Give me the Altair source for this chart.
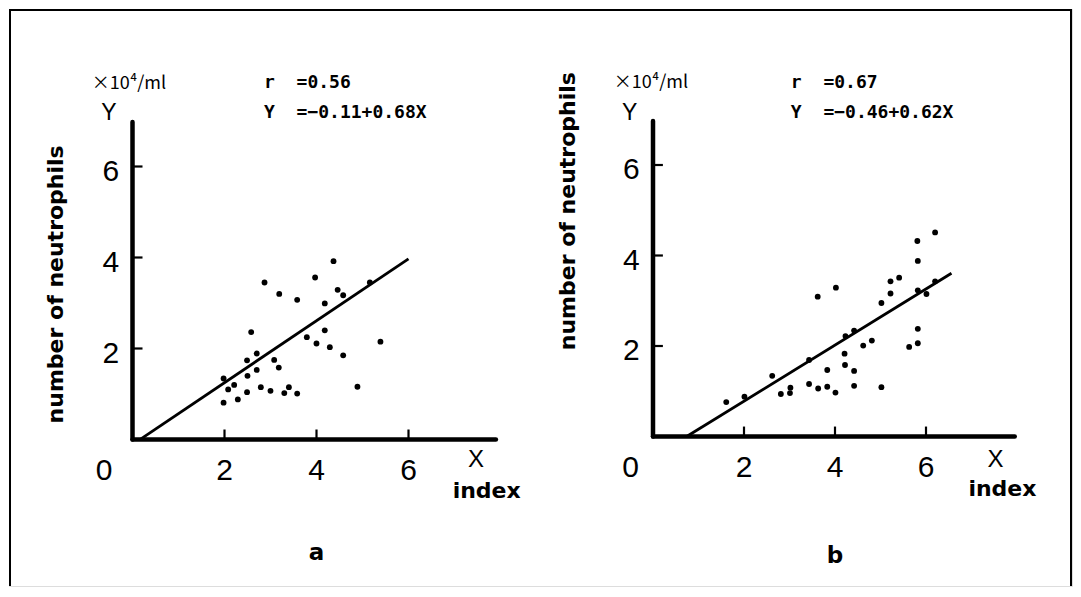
import altair as alt
import pandas as pd

# ---------------- data ----------------
a_x = [4.37, 3.97, 2.87, 5.16, 4.46, 4.58, 3.19, 3.58, 4.18, 2.58, 4.18, 3.79,
       4.00, 4.29, 5.39, 4.58, 2.70, 2.49, 3.08, 3.18, 2.70, 2.50, 1.98, 2.21,
       2.08, 2.79, 2.49, 3.00, 3.40, 3.30, 3.58, 1.98, 2.29, 4.89]
a_y = [3.92, 3.56, 3.45, 3.45, 3.29, 3.17, 3.20, 3.07, 2.99, 2.36, 2.40, 2.25,
       2.11, 2.03, 2.15, 1.85, 1.89, 1.74, 1.75, 1.58, 1.53, 1.40, 1.34, 1.20,
       1.10, 1.15, 1.04, 1.07, 1.15, 1.02, 1.01, 0.81, 0.88, 1.16]
b_x = [1.61, 2.01, 2.62, 2.81, 3.01, 3.02, 3.43, 3.43, 3.63, 3.83, 4.01, 3.83,
       4.22, 4.42, 4.42, 4.21, 4.23, 4.42, 4.62, 4.81, 5.02, 3.62, 4.02, 5.02,
       5.22, 5.22, 5.41, 5.63, 5.82, 5.82, 5.82, 5.82, 6.20, 5.81, 6.01, 6.20]
b_y = [0.76, 0.88, 1.34, 0.94, 0.96, 1.08, 1.16, 1.69, 1.06, 1.10, 0.97, 1.47,
       1.58, 1.45, 1.12, 1.83, 2.22, 2.34, 2.01, 2.12, 1.09, 3.09, 3.29, 2.95,
       3.16, 3.43, 3.51, 1.98, 2.06, 2.38, 3.23, 3.88, 4.51, 4.32, 3.15, 3.43]

a_fit = {"intercept": -0.11, "slope": 0.68, "x_from": 0.16, "x_to": 6.0}
b_fit = {"intercept": -0.46, "slope": 0.62, "x_from": 0.74, "x_to": 6.56}

NB = "\u00a0"
a_r_text = "r" + NB + NB + "=0.56"
a_eq_text = "Y" + NB + NB + "=\u22120.11+0.68X"
b_r_text = "r" + NB + NB + "=0.67"
b_eq_text = "Y" + NB + NB + "=\u22120.46+0.62X"

tick_values = [2, 4, 6]
tick_labels = ["2", "4", "6"]
unit_text = "\u00d710\u2074/ml"
y_title = "number of neutrophils"

# ---------------- layout ----------------
W, H = 1063, 577

layout_a = dict(xr=[123.5, 123.5 + 46 * 8], yr=[430.5, 430.5 - 45.5 * 7],
                ytop=6.98, xend=7.9, zero_x=-0.62,
                unit=(0.73, 7.81), Y=(-0.51, 7.18), r=(2.86, 7.84), eq=(2.86, 7.18),
                X=(7.47, -0.45), index=(7.70, -1.13), letter=(4.0, -2.49),
                title=(-1.66, 3.41))
layout_b = dict(xr=[644, 644 + 45.5 * 8], yr=[427.5, 427.5 - 45.25 * 7],
                ytop=6.97, xend=7.95, zero_x=-0.49,
                unit=(0.77, 7.81), Y=(-0.51, 7.15), r=(3.03, 7.81), eq=(3.03, 7.15),
                X=(7.53, -0.52), index=(7.68, -1.17), letter=(4.0, -2.65),
                title=(-1.87, 4.98))

FONT = "Liberation Sans"
BOLD_FONT = "DejaVu Sans"


def panel(xs_data, ys_data, fit, r_text, eq_text, letter, L):
    xs = alt.Scale(domain=[0, 8], range=L["xr"])
    ys = alt.Scale(domain=[0, 7], range=L["yr"])
    X = lambda f: alt.X(f, type="quantitative", scale=xs, axis=None)
    Y = lambda f: alt.Y(f, type="quantitative", scale=ys, axis=None)

    pts = pd.DataFrame({"x": xs_data, "y": ys_data})
    points = alt.Chart(pts).mark_circle(size=34, color="black", opacity=1).encode(
        x=X("x"), y=Y("y"))

    fx = [fit["x_from"], fit["x_to"]]
    fdf = pd.DataFrame({"x": fx, "y": [fit["intercept"] + fit["slope"] * v for v in fx]})
    line = alt.Chart(fdf).mark_line(color="black", strokeWidth=2.8).encode(
        x=X("x"), y=Y("y"))

    axes_df = pd.DataFrame({"x": [0, 0], "x2": [0, L["xend"]],
                            "y": [0, 0], "y2": [L["ytop"], 0]})
    axes = alt.Chart(axes_df).mark_rule(color="black", strokeWidth=4.5,
                                         strokeCap="round").encode(
        x=X("x"), x2="x2", y=Y("y"), y2="y2")

    tl_x = 10 / 46.0
    tl_y = 10 / 45.5
    xt = pd.DataFrame({"x": tick_values, "y": [0] * 3, "y2": [tl_y] * 3})
    yt = pd.DataFrame({"y": tick_values, "x": [0] * 3, "x2": [tl_x] * 3})
    xticks = alt.Chart(xt).mark_rule(color="black", strokeWidth=2.2).encode(
        x=X("x"), y=Y("y"), y2="y2")
    yticks = alt.Chart(yt).mark_rule(color="black", strokeWidth=2.2).encode(
        y=Y("y"), x=X("x"), x2="x2")

    ylab_df = pd.DataFrame({"y": tick_values, "t": tick_labels, "x": [-0.29] * 3})
    ylabs = alt.Chart(ylab_df).mark_text(font=FONT, fontSize=30, align="right",
                                         baseline="middle", dy=5, color="black").encode(
        x=X("x"), y=Y("y"), text="t:N")
    xlab_df = pd.DataFrame({"x": [L["zero_x"]] + tick_values, "y": [0] * 4,
                            "t": ["0"] + tick_labels})
    xlabs = alt.Chart(xlab_df).mark_text(font=FONT, fontSize=30, align="center",
                                         baseline="middle", dy=31, color="black").encode(
        x=X("x"), y=Y("y"), text="t:N")

    def txt(pos, s, **kw):
        d = pd.DataFrame({"x": [pos[0]], "y": [pos[1]], "t": [s]})
        return alt.Chart(d).mark_text(color="black", **kw).encode(
            x=X("x"), y=Y("y"), text="t:N")

    texts = [
        txt(L["unit"], unit_text, font="Noto Sans CJK JP", fontSize=18,
            align="right", baseline="middle"),
        txt(L["Y"], "Y", font=FONT, fontSize=23, align="center", baseline="middle"),
        txt(L["r"], r_text, font="DejaVu Sans Mono", fontSize=18, fontWeight="bold",
            align="left", baseline="middle"),
        txt(L["eq"], eq_text, font="DejaVu Sans Mono", fontSize=18, fontWeight="bold",
            align="left", baseline="middle"),
        txt(L["X"], "X", font=FONT, fontSize=24, align="center", baseline="middle"),
        txt(L["index"], "index", font=BOLD_FONT, fontSize=22, fontWeight="bold",
            align="center", baseline="middle"),
        txt(L["letter"], letter, font=BOLD_FONT, fontSize=23, fontWeight="bold",
            align="center", baseline="middle"),
        txt(L["title"], y_title, font=BOLD_FONT, fontSize=22, fontWeight="bold",
            align="center", baseline="middle", angle=270),
    ]

    return alt.layer(axes, xticks, yticks, line, points, ylabs, xlabs, *texts)


pa = panel(a_x, a_y, a_fit, a_r_text, a_eq_text, "a", layout_a)
pb = panel(b_x, b_y, b_fit, b_r_text, b_eq_text, "b", layout_b)

# outer frame (left, top, right)
frame_df = pd.DataFrame({"k": ["frame"]})
left = alt.Chart(frame_df).mark_rule(color="black", strokeWidth=2).encode(
    x=alt.value(1), y=alt.value(0), y2=alt.value(H))
right = alt.Chart(frame_df).mark_rule(color="black", strokeWidth=2).encode(
    x=alt.value(W - 1), y=alt.value(0), y2=alt.value(H))
top = alt.Chart(frame_df).mark_rule(color="black", strokeWidth=2).encode(
    x=alt.value(0), x2=alt.value(W), y=alt.value(1))

chart = alt.layer(left, right, top, pa, pb).resolve_scale(
    x="independent", y="independent"
).properties(width=W, height=H, padding=0).configure_view(stroke=None).configure(
    background="white")

chart.save("out.html", embed_options={"renderer": "svg", "actions": False})
